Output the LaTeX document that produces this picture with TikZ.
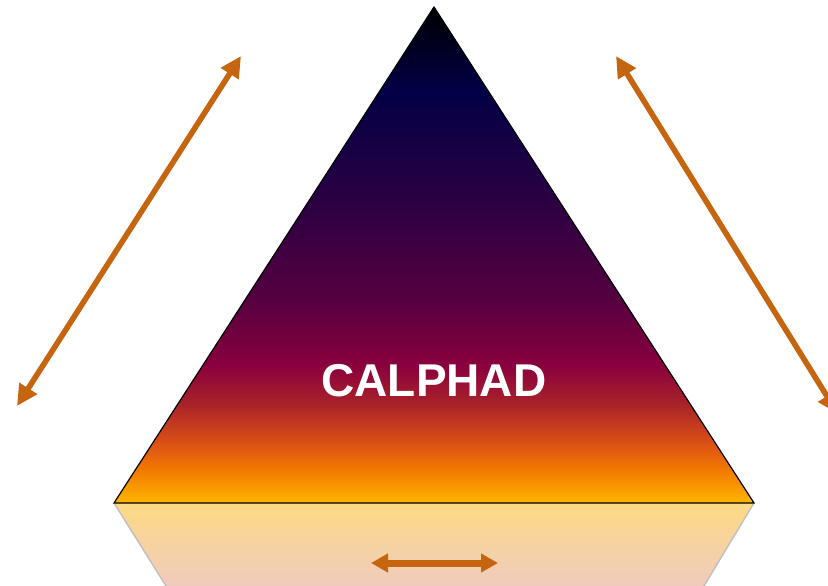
\documentclass[tikz,border=0pt]{standalone}
\usepackage{fontspec}
\setmainfont{Liberation Sans}
\usepackage{xcolor}
\usetikzlibrary{arrows.meta}

\definecolor{arrowbrown}{RGB}{198,101,16}
\definecolor{gA}{RGB}{0,0,0}
\definecolor{gB}{RGB}{2,0,70}
\definecolor{gC}{RGB}{42,0,66}
\definecolor{gD}{RGB}{86,0,64}
\definecolor{gE}{RGB}{138,0,62}
\definecolor{gF}{RGB}{170,36,40}
\definecolor{gG}{RGB}{222,84,20}
\definecolor{gH}{RGB}{242,122,0}
\definecolor{gI}{RGB}{255,184,0}
\definecolor{refltop}{RGB}{253,218,132}
\definecolor{reflbot}{RGB}{240,203,190}

\begin{document}
\begin{tikzpicture}[x=1pt,y=-1pt,
    link/.style={draw=arrowbrown, line width=5.6pt,
      {Triangle[length=21pt,width=20pt]}-{Triangle[length=21pt,width=20pt]}},
    shortlink/.style={draw=arrowbrown, line width=7pt,
      {Triangle[length=17pt,width=18pt]}-{Triangle[length=17pt,width=18pt]}},
    title/.style={text=white, font=\fontsize{46}{50}\selectfont\bfseries}]
\useasboundingbox (0,0) rectangle (828,586);
\clip (0,0) rectangle (828,586);
\coordinate (apex) at (434,7);
\coordinate (bl) at (114,503);
\coordinate (br) at (754,503);
% reflection under the base
\shade[top color=refltop, bottom color=reflbot] (bl) -- (br) -- (704,586) -- (166,586) -- cycle;
\draw[gray!50, line width=1.4pt] (bl) -- (166,586);
\draw[gray!50, line width=1.4pt] (br) -- (704,586);
% the triangle
\begin{scope}
  \clip (apex) -- (br) -- (bl) -- cycle;
  \foreach \ya/\yb/\ca/\cb in {7/90/gA/gB, 90/200/gB/gC, 200/300/gC/gD, 300/365/gD/gE,
      365/405/gE/gF, 405/445/gF/gG, 445/470/gG/gH, 470/504/gH/gI}
    \shade[top color=\ca, bottom color=\cb] (100,\ya) rectangle (770,\yb+0.6);
\end{scope}
\draw[black, line width=1.2pt, line join=miter] (apex) -- (br) -- (bl) -- cycle;
\node[title] (calphad) at (434,381) {CALPHAD};
% arrows
\coordinate (lefttop) at (241,56);
\coordinate (leftbot) at (17,406);
\coordinate (righttop) at (616,56);
\coordinate (rightbot) at (838,414);
\coordinate (basel) at (371,563);
\coordinate (baser) at (498,563);
\draw[link] (leftbot) -- (lefttop);
\draw[link] (righttop) -- (rightbot);
\draw[shortlink] (basel) -- (baser);
\end{tikzpicture}
\end{document}
